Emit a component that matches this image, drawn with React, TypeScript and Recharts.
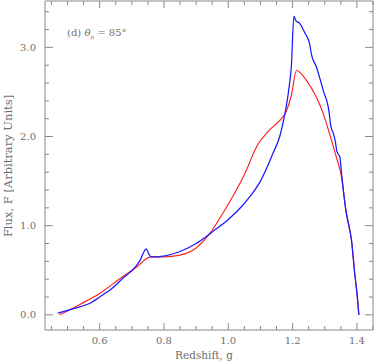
import { LineChart, Line, XAxis, YAxis } from "recharts";

const AXIS = "#8a8a8a";
const LABEL = "#6e6e6e";
const FONT = "'DejaVu Serif', serif";

// blue model curve (redshift g, flux)
const blueG = [0.47, 0.5, 0.538, 0.57, 0.6, 0.64, 0.672, 0.704, 0.724, 0.745, 0.752, 0.76, 0.78, 0.8, 0.85, 0.9, 0.95, 1.0, 1.04, 1.07, 1.1, 1.12, 1.14, 1.16, 1.17, 1.18, 1.19, 1.196, 1.204, 1.21, 1.222, 1.237, 1.253, 1.258, 1.274, 1.295, 1.314, 1.318, 1.327, 1.332, 1.338, 1.347, 1.352, 1.367, 1.375, 1.383, 1.393, 1.401, 1.406];
const blueF = [0.02, 0.05, 0.09, 0.13, 0.2, 0.3, 0.41, 0.51, 0.6, 0.74, 0.69, 0.65, 0.65, 0.66, 0.71, 0.8, 0.93, 1.07, 1.21, 1.34, 1.5, 1.65, 1.82, 2.0, 2.15, 2.33, 2.58, 2.78, 3.35, 3.3, 3.27, 3.17, 3.04, 2.93, 2.78, 2.52, 2.26, 2.13, 2.03, 1.96, 1.83, 1.77, 1.59, 1.14, 1.0, 0.84, 0.47, 0.21, 0.0];

// red model curve
const redG = [0.476, 0.54, 0.6, 0.672, 0.72, 0.745, 0.76, 0.8, 0.85, 0.9, 0.942, 0.983, 1.025, 1.056, 1.077, 1.09, 1.108, 1.13, 1.16, 1.18, 1.196, 1.212, 1.243, 1.274, 1.295, 1.315, 1.336, 1.352, 1.367, 1.383, 1.393, 1.401, 1.406];
const redF = [0.0, 0.12, 0.24, 0.43, 0.55, 0.63, 0.65, 0.65, 0.67, 0.75, 0.91, 1.14, 1.4, 1.62, 1.8, 1.9, 1.99, 2.08, 2.18, 2.28, 2.46, 2.74, 2.63, 2.44, 2.26, 2.03, 1.77, 1.55, 1.14, 0.84, 0.47, 0.21, 0.0];

const xTicks = [0.45, 0.5, 0.55, 0.6, 0.65, 0.7, 0.75, 0.8, 0.85, 0.9, 0.95, 1.0, 1.05, 1.1, 1.15, 1.2, 1.25, 1.3, 1.35, 1.4, 1.45];
const xLabels = [0.6, 0.8, 1.0, 1.2, 1.4];
const yTicks = [0, 0.2, 0.4, 0.6, 0.8, 1.0, 1.2, 1.4, 1.6, 1.8, 2.0, 2.2, 2.4, 2.6, 2.8, 3.0, 3.2, 3.4];
const yLabels = [0, 1, 2, 3];

const blue = blueG.map((g, i) => ({ g, f: blueF[i] }));
const red = redG.map((g, i) => ({ g, f: redF[i] }));

const isMajor = (v: number, list: number[]) => list.some((m) => Math.abs(m - v) < 1e-6);

function BottomTick({ x, y, payload }: any) {
  const major = isMajor(payload.value, xLabels);
  return (
    <g>
      <line x1={x} x2={x} y1={y} y2={y - (major ? 7 : 4)} stroke={AXIS} />
      {major && (
        <text x={x} y={y + 14} textAnchor="middle" fontSize={10} fontFamily={FONT} fill={LABEL}>
          {payload.value.toFixed(1)}
        </text>
      )}
    </g>
  );
}

function TopTick({ x, y, payload }: any) {
  const major = isMajor(payload.value, xLabels);
  return <line x1={x} x2={x} y1={y} y2={y + (major ? 7 : 4)} stroke={AXIS} />;
}

function LeftTick({ x, y, payload }: any) {
  const major = isMajor(payload.value, yLabels);
  return (
    <g>
      <line x1={x} x2={x + (major ? 8 : 4)} y1={y} y2={y} stroke={AXIS} />
      {major && (
        <text x={x - 9} y={y + 3.5} textAnchor="end" fontSize={10} fontFamily={FONT} fill={LABEL}>
          {payload.value.toFixed(1)}
        </text>
      )}
    </g>
  );
}

function RightTick({ x, y, payload }: any) {
  const major = isMajor(payload.value, yLabels);
  return <line x1={x} x2={x - (major ? 8 : 4)} y1={y} y2={y} stroke={AXIS} />;
}

export default function App() {
  return (
    <div style={{ position: "relative", width: 374, height: 363, background: "#fff" }}>
      <style>{`body{margin:0}`}</style>
      <LineChart width={374} height={363} margin={{ top: 0, right: 0, bottom: 0, left: 0 }}>
        <XAxis
          dataKey="g"
          type="number"
          domain={[0.43, 1.45]}
          allowDataOverflow
          ticks={xTicks}
          interval={0}
          height={33}
          tickSize={0}
          tickMargin={0}
          tickLine={false}
          axisLine={{ stroke: AXIS }}
          tick={<BottomTick />}
        />
        <XAxis
          xAxisId="top"
          orientation="top"
          dataKey="g"
          type="number"
          domain={[0.43, 1.45]}
          allowDataOverflow
          ticks={xTicks}
          interval={0}
          height={1}
          tickSize={0}
          tickMargin={0}
          tickLine={false}
          axisLine={{ stroke: AXIS }}
          tick={<TopTick />}
        />
        <YAxis
          type="number"
          domain={[-0.17, 3.52]}
          allowDataOverflow
          ticks={yTicks}
          interval={0}
          width={45}
          tickSize={0}
          tickMargin={0}
          tickLine={false}
          axisLine={{ stroke: AXIS }}
          tick={<LeftTick />}
        />
        <YAxis
          yAxisId="r"
          orientation="right"
          type="number"
          domain={[-0.17, 3.52]}
          allowDataOverflow
          ticks={yTicks}
          interval={0}
          width={1}
          tickSize={0}
          tickMargin={0}
          tickLine={false}
          axisLine={{ stroke: AXIS }}
          tick={<RightTick />}
        />
        <Line data={red} dataKey="f" type="monotone" stroke="#ff2020" strokeWidth={1.15} dot={false} isAnimationActive={false} />
        <Line data={blue} dataKey="f" type="monotone" stroke="#1a1aff" strokeWidth={1.25} dot={false} isAnimationActive={false} />
      </LineChart>
      <div style={{ position: "absolute", left: 67, top: 27, fontFamily: FONT, fontSize: 10, color: LABEL, whiteSpace: "nowrap" }}>
        (d) <i>θ</i>
        <sub style={{ fontSize: 6 }}>o</sub> = 85°
      </div>
      <div style={{ position: "absolute", left: 0, top: 349, width: 408, textAlign: "center", fontFamily: FONT, fontSize: 10.5, lineHeight: "12px", color: LABEL }}>
        Redshift, g
      </div>
      <div
        style={{
          position: "absolute",
          left: 8,
          top: 166,
          transform: "translate(-50%, -50%) rotate(-90deg)",
          fontFamily: FONT,
          fontSize: 11.5,
          color: LABEL,
          whiteSpace: "nowrap",
        }}
      >
        Flux, F [Arbitrary Units]
      </div>
    </div>
  );
}
